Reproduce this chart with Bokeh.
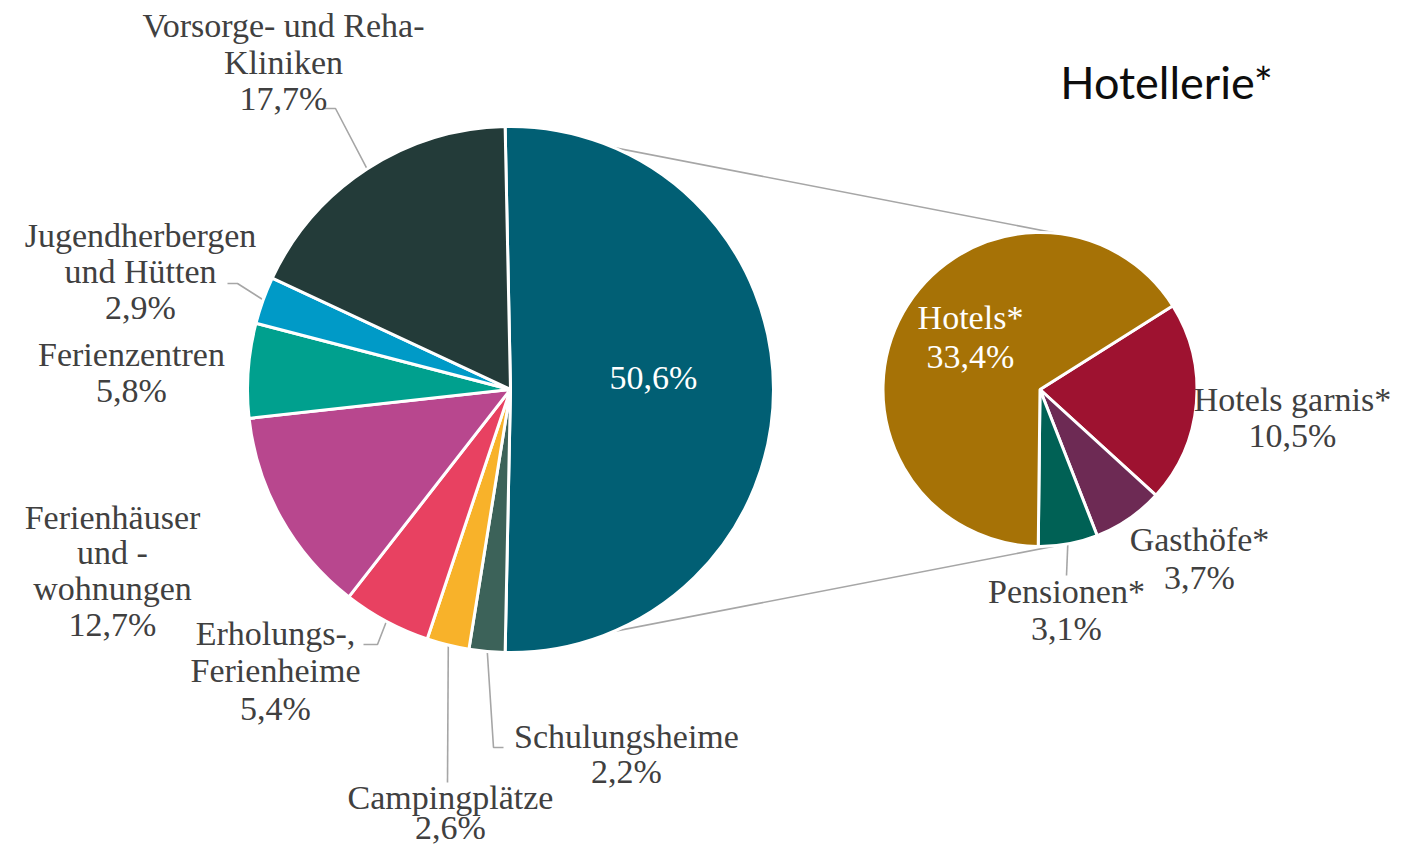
import math
from bokeh.plotting import figure
from bokeh.models import Range1d, ColumnDataSource
from bokeh.core.properties import value
from bokeh.embed import file_html
from bokeh.resources import INLINE

# ---------------- data ----------------
main_names = ["Hotellerie", "Schulungsheime", "Campingplätze", "Erholungs-, Ferienheime",
              "Ferienhäuser und -wohnungen", "Ferienzentren", "Jugendherbergen und Hütten",
              "Vorsorge- und Reha-Kliniken"]
main_values = [50.6, 2.2, 2.6, 5.4, 12.7, 5.8, 2.9, 17.7]
main_colors = ["#015f74", "#3c6259", "#f8b22a", "#e84161", "#b8478e", "#00a08e", "#009ac7", "#233b39"]

sub_names = ["Hotels garnis*", "Gasthöfe*", "Pensionen*", "Hotels*"]
sub_values = [10.5, 3.7, 3.1, 33.4]
sub_colors = ["#9e1230", "#6d2a54", "#006155", "#a67206"]

title_text = "Hotellerie*"

# ---------------- layout ----------------
H = 864
def Y(sy):
    return H - sy

MAIN_C = (510.0, Y(389))
MAIN_R = 263.0
SUB_C = (1039.5, Y(389))
SUB_R = 157.0
SUB_START_DEG = 32.2
CONNECT_DEG = 83.0

TEXT_COLOR = "#404040"
LINE_COLOR = "#a6a6a6"
FONT = "Liberation Serif"
FS = "34px"
TEXT_SHIFT = 12      # renderer baseline correction
TITLE_SHIFT = 19

def pct(v):
    return ("%.1f%%" % v).replace(".", ",")

main_layout = [
    (653, [389], ["{p}"], "white"),
    (626, [748, 783], ["Schulungsheime", "{p}"], TEXT_COLOR),
    (450, [809, 839], ["Campingplätze", "{p}"], TEXT_COLOR),
    (275, [645, 682, 720], ["Erholungs-,", "Ferienheime", "{p}"], TEXT_COLOR),
    (112, [529, 564, 600, 636], ["Ferienhäuser", "und -", "wohnungen", "{p}"], TEXT_COLOR),
    (131, [366, 402], ["Ferienzentren", "{p}"], TEXT_COLOR),
    (140, [247, 283, 319], ["Jugendherbergen", "und Hütten", "{p}"], TEXT_COLOR),
    (283, [37, 74, 110], ["Vorsorge- und Reha-", "Kliniken", "{p}"], TEXT_COLOR),
]
sub_layout = [
    (1292, [411, 447], ["Hotels garnis*", "{p}"], TEXT_COLOR),
    (1199, [551, 589], ["Gasthöfe*", "{p}"], TEXT_COLOR),
    (1066, [603, 640], ["Pensionen*", "{p}"], TEXT_COLOR),
    (970, [329, 368], ["Hotels*", "{p}"], "white"),
]
main_leaders = {
    7: [(335, 108), (323, 108)],
    6: [(237, 283), (227, 283)],
    3: [(377, 644), (363, 644)],
    2: [(447, 782)],
    1: [(493, 747), (503, 747)],
}
sub_leaders = {
    2: [(1066, 575)],
}

# ---------------- geometry ----------------
total = sum(main_values)
spans = [v / total * 2 * math.pi for v in main_values]
m_start, m_end = [-spans[0] / 2], [spans[0] / 2]
cur = -spans[0] / 2
for s in spans[1:]:
    m_end.append(cur)
    m_start.append(cur - s)
    cur -= s

stotal = sum(sub_values)
sspans = [v / stotal * 2 * math.pi for v in sub_values]
s_start, s_end = [], []
cur = math.radians(SUB_START_DEG)
for s in sspans:
    s_end.append(cur)
    s_start.append(cur - s)
    cur -= s

# ---------------- figure ----------------
p = figure(width=1391, height=848, x_range=Range1d(0, 1391), y_range=Range1d(H - 848, H),
           output_backend="svg", toolbar_location=None,
           x_axis_location=None, y_axis_location=None, min_border=0)
p.grid.visible = False
p.outline_line_color = None
p.background_fill_color = "white"
p.border_fill_color = "white"

# connector lines (drawn first, pies cover them)
a_top = m_end[0]
a_bot = m_start[0]
ca = math.radians(CONNECT_DEG)
xs_c = [[MAIN_C[0] + MAIN_R * math.cos(a_top), SUB_C[0] + SUB_R * math.cos(ca)],
        [MAIN_C[0] + MAIN_R * math.cos(a_bot), SUB_C[0] + SUB_R * math.cos(-ca)]]
ys_c = [[MAIN_C[1] + MAIN_R * math.sin(a_top), SUB_C[1] + SUB_R * math.sin(ca)],
        [MAIN_C[1] + MAIN_R * math.sin(a_bot), SUB_C[1] + SUB_R * math.sin(-ca)]]
p.multi_line(xs_c, ys_c, line_color=LINE_COLOR, line_width=1.6)

# leader lines
lx, ly = [], []
for i, pts in main_leaders.items():
    mid = (m_start[i] + m_end[i]) / 2
    lx.append([MAIN_C[0] + (MAIN_R - 2) * math.cos(mid)] + [q[0] for q in pts])
    ly.append([MAIN_C[1] + (MAIN_R - 2) * math.sin(mid)] + [Y(q[1]) for q in pts])
for i, pts in sub_leaders.items():
    mid = (s_start[i] + s_end[i]) / 2
    lx.append([SUB_C[0] + (SUB_R - 2) * math.cos(mid)] + [q[0] for q in pts])
    ly.append([SUB_C[1] + (SUB_R - 2) * math.sin(mid)] + [Y(q[1]) for q in pts])
p.multi_line(lx, ly, line_color=LINE_COLOR, line_width=1.6)

main_src = ColumnDataSource(dict(start=m_start, end=m_end, color=main_colors, name=main_names))
p.wedge(x=MAIN_C[0], y=MAIN_C[1], radius=MAIN_R, start_angle="start", end_angle="end",
        fill_color="color", line_color="white", line_width=3, source=main_src)

sub_src = ColumnDataSource(dict(start=s_start, end=s_end, color=sub_colors, name=sub_names))
p.wedge(x=SUB_C[0], y=SUB_C[1], radius=SUB_R, start_angle="start", end_angle="end",
        fill_color="color", line_color="white", line_width=3, source=sub_src)

# labels
tx, ty, tt, tc = [], [], [], []
for (cx, bls, lines, col), v in zip(main_layout, main_values):
    for bl, ln in zip(bls, lines):
        tx.append(cx); ty.append(Y(bl - TEXT_SHIFT)); tt.append(ln.format(p=pct(v))); tc.append(col)
for (cx, bls, lines, col), v in zip(sub_layout, sub_values):
    for bl, ln in zip(bls, lines):
        tx.append(cx); ty.append(Y(bl - TEXT_SHIFT)); tt.append(ln.format(p=pct(v))); tc.append(col)
p.text(x=tx, y=ty, text=tt, text_color=tc, text_font=value(FONT), text_font_size=FS,
       text_align="center", text_baseline="alphabetic")

# title
p.text(x=[1166], y=[Y(100 - TITLE_SHIFT)], text=[title_text], text_color="#0d0d0d",
       text_font=value("Lato"), text_font_size="45px", text_align="center",
       text_baseline="alphabetic")

open("out.html", "w").write(file_html(p, INLINE))
